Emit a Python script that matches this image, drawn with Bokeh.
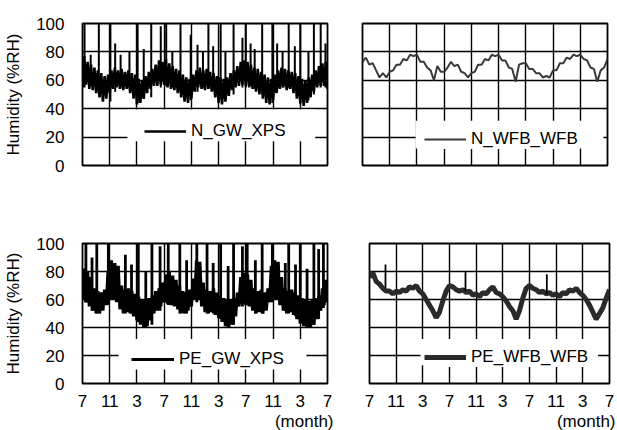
import numpy as np
from bokeh.plotting import figure
from bokeh.layouts import column, row
from bokeh.models import (Range1d, FixedTicker, Legend, LegendItem,
                          BoxAnnotation, Title)
from bokeh.embed import file_html
from bokeh.resources import INLINE

FONT = "Liberation Sans"

# ---------------- data ----------------
tick_months = [0, 4, 8, 12, 16, 20, 24, 28, 32, 36]
tick_labels = ["7", "11", "3", "7", "11", "3", "7", "11", "3", "7"]
y_ticks = [0, 20, 40, 60, 80, 100]

months = np.arange(0, 36.01, 0.5)  # half-month sampling, 73 points

# N_GW_XPS : band low / high
n_gw_lo = [55, 57, 54, 53, 51, 48, 45, 47, 51, 54, 55, 54, 53, 54, 51, 47, 43, 44, 47, 51,
           54, 56, 56, 57, 57, 55, 54, 53, 51, 48, 45, 44, 47, 52, 55, 54, 53, 54, 52, 48,
           44, 43, 45, 49, 53, 55, 56, 57, 56, 55, 54, 52, 50, 47, 44, 43, 46, 51, 54, 55,
           53, 54, 51, 47, 44, 42, 44, 48, 52, 55, 56, 56, 54]
n_gw_hi = [77, 73, 71, 69, 67, 65, 63, 64, 67, 69, 67, 68, 66, 67, 65, 64, 61, 60, 63, 66,
           68, 71, 74, 73, 75, 72, 70, 68, 67, 64, 62, 61, 64, 67, 69, 67, 68, 66, 65, 63,
           62, 61, 62, 65, 67, 70, 73, 74, 73, 71, 69, 68, 66, 64, 62, 61, 64, 67, 69, 68,
           67, 66, 65, 63, 61, 60, 62, 64, 67, 70, 72, 73, 71]
n_gw_spike_m = [0.3, 1.2, 2.4, 4.1, 4.8, 5.6, 6.9, 8.1, 9.0, 10.1, 11.5, 12.3, 13.2, 14.4,
                15.9, 16.9, 17.7, 18.5, 19.2, 20.3, 21.0, 22.2, 23.5, 24.0, 24.7, 25.3,
                26.4, 27.9, 28.6, 29.4, 30.3, 31.2, 32.0, 33.2, 34.0, 35.0, 35.7]
n_gw_spike_top = [100, 78, 100, 100, 86, 78, 80, 100, 82, 100, 98, 100, 80, 100,
                  92, 85, 80, 100, 84, 100, 80, 100, 90, 100, 86, 82,
                  100, 100, 86, 80, 100, 84, 100, 80, 100, 100, 86]
n_gw_spike_bot = [55, 56, 50, 45, 52, 55, 55, 44, 47, 48, 55, 56, 55, 52,
                  46, 52, 55, 54, 53, 47, 46, 50, 55, 55, 56, 54,
                  54, 44, 52, 55, 55, 53, 43, 46, 50, 55, 55]

# N_WFB_WFB
n_wfb = [73, 76, 71, 72, 67, 62, 65, 62, 66, 67, 71, 71, 75, 74, 78, 77, 78, 73, 73, 69,
         67, 60, 70, 66, 66, 69, 73, 70, 71, 66, 65, 62, 65, 66, 71, 71, 75, 74, 78, 77,
         78, 74, 74, 69, 68, 59, 71, 72, 72, 68, 68, 65, 65, 62, 63, 62, 67, 67, 72, 72,
         76, 75, 78, 77, 78, 75, 74, 69, 68, 59, 67, 69, 75]

# PE_GW_XPS : band low / high
pe_gw_lo = [60, 58, 55, 52, 50, 50, 52, 56, 60, 60, 58, 53, 50, 51, 50, 48, 45, 42, 40, 41,
            45, 50, 52, 55, 58, 57, 56, 55, 53, 50, 50, 52, 55, 60, 60, 55, 51, 50, 51, 49,
            47, 44, 41, 40, 42, 48, 55, 57, 56, 55, 52, 50, 51, 50, 52, 58, 60, 60, 56, 52,
            50, 51, 49, 46, 43, 41, 40, 40, 42, 46, 52, 56, 58]
pe_gw_hi = [82, 80, 76, 68, 66, 65, 67, 80, 88, 86, 84, 70, 67, 68, 66, 64, 62, 60, 60, 61,
            63, 66, 68, 72, 78, 80, 77, 74, 70, 66, 65, 67, 75, 88, 87, 72, 67, 66, 68, 65,
            63, 61, 60, 60, 61, 65, 76, 79, 78, 74, 68, 66, 67, 65, 68, 84, 88, 87, 76, 68,
            66, 67, 65, 63, 61, 60, 59, 60, 61, 63, 68, 74, 76]
pe_gw_spike_m = [0.5, 1.4, 2.1, 3.8, 6.3, 7.2, 8.2, 9.3, 10.2, 11.4, 12.6, 14.3, 15.3, 16.8,
                 18.3, 19.2, 20.3, 21.4, 22.2, 23.5, 24.2, 25.4, 26.4, 27.9, 29.8, 30.3,
                 31.3, 32.0, 33.0, 34.0, 34.7, 35.4]
pe_gw_spike_top = [100, 90, 100, 100, 92, 85, 100, 80, 100, 98, 100, 100, 88, 100,
                   100, 86, 100, 84, 100, 98, 100, 88, 100, 100, 86, 100,
                   85, 100, 82, 100, 96, 100]
pe_gw_spike_bot = [58, 52, 50, 56, 50, 50, 44, 40, 42, 52, 56, 50, 50, 58,
                   50, 50, 46, 40, 42, 55, 56, 50, 50, 58, 52, 50,
                   48, 43, 40, 42, 46, 54]

# PE_WFB_WFB
pe_wfb = [76, 79, 73, 71, 68, 66, 66, 64, 66, 65, 67, 66, 69, 68, 70, 66, 64, 60, 56, 52,
          47, 51, 59, 66, 70, 69, 67, 66, 67, 65, 66, 63, 64, 62, 65, 64, 67, 69, 65, 64,
          62, 59, 55, 52, 46, 52, 61, 68, 70, 68, 67, 65, 66, 64, 65, 63, 64, 62, 65, 64,
          67, 66, 68, 65, 63, 60, 56, 51, 46, 50, 54, 61, 67]
pe_wfb_spike_m = [2.4, 14.4, 26.6]
pe_wfb_spike_top = [85, 80, 78]
pe_wfb_spike_bot = [68, 66, 64]


def zigzag(lo, hi):
    xs, ys = [], []
    for m, a, b in zip(months, lo, hi):
        xs += [m, m + 0.25]
        ys += [a, b]
    return xs, ys


def make_panel(w, h, bl, br, bt, bb, show_y, show_x):
    p = figure(width=w, height=h, x_range=Range1d(0, 36), y_range=Range1d(0, 100),
               output_backend="svg", toolbar_location=None,
               min_border_left=bl, min_border_right=br,
               min_border_top=bt, min_border_bottom=bb)
    p.background_fill_color = "white"
    p.border_fill_color = "white"
    p.outline_line_color = "black"
    p.outline_line_width = 1.8
    xt = FixedTicker(ticks=tick_months)
    yt = FixedTicker(ticks=y_ticks)
    p.xaxis.ticker = xt
    p.yaxis.ticker = yt
    p.xgrid.ticker = xt
    p.ygrid.ticker = yt
    for g in (p.xgrid, p.ygrid):
        g.grid_line_color = "black"
        g.grid_line_width = 1.4
        g.grid_line_alpha = 1
    for ax in (p.xaxis, p.yaxis):
        ax.axis_line_color = None
        ax.major_tick_line_color = None
        ax.minor_tick_line_color = None
        ax.major_label_text_font = FONT
        ax.major_label_text_font_size = "17px"
        ax.major_label_text_color = "black"
    p.yaxis.major_label_standoff = 12
    p.xaxis.major_label_standoff = 5
    p.xaxis.major_label_overrides = {t: l for t, l in zip(tick_months, tick_labels)}
    p.yaxis.major_label_overrides = {t: str(t) for t in y_ticks}
    if show_y:
        p.yaxis.axis_label = "Humidity (%RH)"
        p.yaxis.axis_label_text_font = FONT
        p.yaxis.axis_label_text_font_size = "17px"
        p.yaxis.axis_label_text_font_style = "normal"
        p.yaxis.axis_label_text_color = "black"
        p.yaxis.axis_label_standoff = 10
    else:
        p.yaxis.visible = False
    if show_x:
        p.add_layout(Title(text="(month)", align="right", standoff=0, offset=-6,
                           text_font=FONT, text_font_size="17px",
                           text_font_style="normal", text_color="black"), "below")
    else:
        p.xaxis.visible = False
    return p


def add_legend(p, r, label, box, loc, gw=42):
    p.add_layout(BoxAnnotation(left=box[0], right=box[1], bottom=box[2], top=box[3],
                               fill_color="white", fill_alpha=1, line_color=None))
    leg = Legend(items=[LegendItem(label=label, renderers=[r])], location=loc,
                 background_fill_color="white", background_fill_alpha=1,
                 border_line_color=None, padding=4, margin=0, spacing=0,
                 glyph_width=gw, glyph_height=20, label_standoff=5,
                 label_text_font=FONT, label_text_font_size="17px",
                 label_text_color="black")
    p.add_layout(leg)


# ---- top-left: N_GW_XPS ----
tl = make_panel(340, 215, 82, 13, 19, 50, True, False)
zx, zy = zigzag(n_gw_lo, n_gw_hi)
r_tl = tl.line(zx, zy, line_color="black", line_width=2.6)
tl.segment(x0=n_gw_spike_m, y0=n_gw_spike_bot, x1=n_gw_spike_m, y1=n_gw_spike_top,
           line_color="black", line_width=2.0)
add_legend(tl, r_tl, "N_GW_XPS", (6.6, 34.2, 17, 39.4), (62, 24))

# ---- top-right: N_WFB_WFB ----
tr = make_panel(277, 215, 22, 10, 23, 50, False, False)
r_tr = tr.line(months, n_wfb, line_color="#3a3a3a", line_width=2.0)
add_legend(tr, r_tr, "N_WFB_WFB", (7.8, 35.4, 12, 31.6), (62, 16))

# ---- bottom-left: PE_GW_XPS ----
bl = make_panel(340, 215, 82, 13, 24, 46, True, True)
zx, zy = zigzag(pe_gw_lo, pe_gw_hi)
r_bl = bl.line(zx, zy, line_color="black", line_width=3.2)
bl.segment(x0=pe_gw_spike_m, y0=pe_gw_spike_bot, x1=pe_gw_spike_m, y1=pe_gw_spike_top,
           line_color="black", line_width=2.8)
add_legend(bl, r_bl, "PE_GW_XPS", (5.3, 32.9, 10, 31.7), (49, 14), gw=43)

# ---- bottom-right: PE_WFB_WFB ----
br = make_panel(277, 215, 29, 8, 28, 45, False, True)
r_br = br.line(months, pe_wfb, line_color="#2a2a2a", line_width=5)
br.segment(x0=pe_wfb_spike_m, y0=pe_wfb_spike_bot, x1=pe_wfb_spike_m, y1=pe_wfb_spike_top,
           line_color="black", line_width=1.8)
add_legend(br, r_br, "PE_WFB_WFB", (7.65, 34.3, 13, 31.7), (55, 16))

layout = column(row(tl, tr), row(bl, br))
open("out.html", "w").write(file_html(layout, INLINE))
